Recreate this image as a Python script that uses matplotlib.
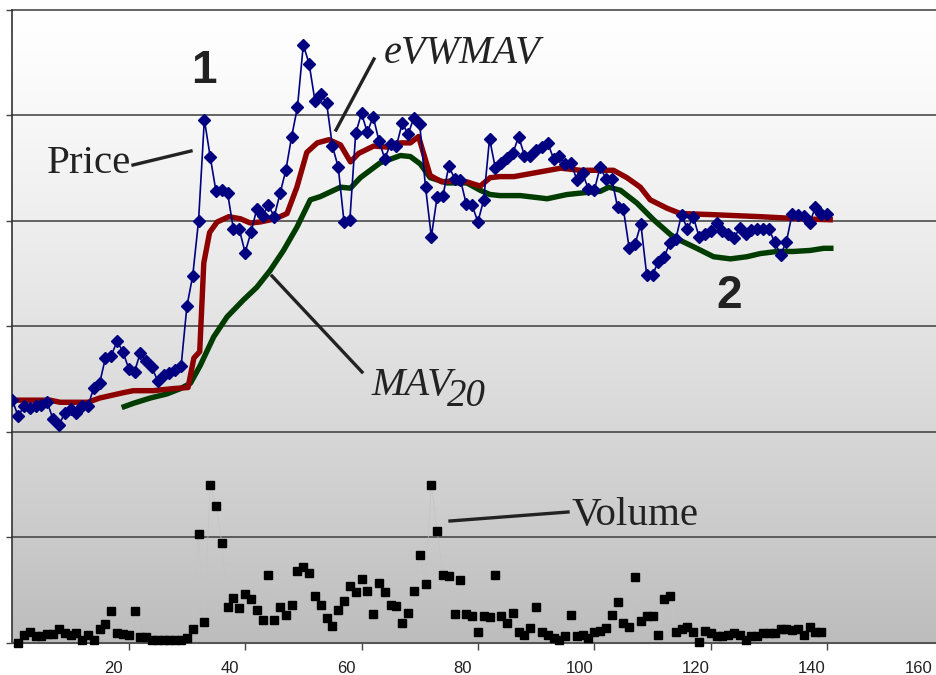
import numpy as np
import matplotlib
matplotlib.use("Agg")
import matplotlib.pyplot as plt
from matplotlib.lines import Line2D
from matplotlib.transforms import ScaledTranslation

# price, one value per day (day 0..140)
price = [2.30, 2.15, 2.24, 2.23, 2.24, 2.25, 2.28, 2.12, 2.06, 2.18,
         2.22, 2.18, 2.24, 2.24, 2.42, 2.46, 2.70, 2.72, 2.86, 2.76,
         2.60, 2.57, 2.75, 2.67, 2.61, 2.48, 2.54, 2.56, 2.59, 2.62,
         3.19, 3.48, 4.00, 4.96, 4.61, 4.28, 4.29, 4.26, 3.92, 3.92,
         3.70, 3.89, 4.11, 4.05, 4.15, 4.04, 4.26, 4.48, 4.80, 5.08,
         5.67, 5.49, 5.14, 5.20, 5.12, 4.71, 4.51, 3.99, 4.01, 4.83,
         5.02, 4.84, 4.99, 4.76, 4.59, 4.73, 4.71, 4.93, 4.82, 4.98,
         4.92, 4.32, 3.85, 4.23, 4.24, 4.52, 4.40, 4.39, 4.16, 4.15,
         3.99, 4.20, 4.78, 4.50, 4.55, 4.60, 4.64, 4.80, 4.62, 4.62,
         4.67, 4.70, 4.74, 4.59, 4.62, 4.54, 4.55, 4.39, 4.45, 4.30,
         4.29, 4.51, 4.40, 4.40, 4.13, 4.11, 3.74, 3.78, 3.97, 3.49,
         3.49, 3.61, 3.66, 3.79, 3.83, 4.06, 3.92, 4.04, 3.85, 3.88,
         3.90, 3.98, 3.90, 3.88, 3.84, 3.93, 3.88, 3.91, 3.92, 3.92,
         3.92, 3.80, 3.68, 3.80, 4.07, 4.06, 4.05, 3.98, 4.13, 4.07,
         4.07]
days = np.arange(len(price))

# eVWMAV line, vertices
evw_x = [0, 6.5, 8.2, 13, 15, 19, 20.8, 24.2, 27.7, 30.2, 31.2, 32.2, 32.9,
         33.9, 35.2, 37.2, 39.2, 40.9, 42.6, 45.2, 47.2, 48.9, 50.6, 52.4,
         54.4, 55.2, 56.4, 58.1, 59.5, 62.1, 64.4, 66.7, 68.4, 69.8, 71.8,
         73.8, 75.8, 78.1, 80.4, 82.1, 83.8, 86.2, 90.2, 94.2, 97.6, 100.5,
         103.3, 105.6, 107.9, 109.6, 112.5, 114.8, 120, 128.5, 135.4, 141]
evw_y = [2.30, 2.30, 2.28, 2.28, 2.32, 2.37, 2.39, 2.39, 2.41, 2.42, 2.70,
         2.76, 3.60, 3.89, 3.99, 4.04, 4.02, 3.98, 3.99, 4.02, 4.07, 4.32,
         4.65, 4.74, 4.77, 4.75, 4.72, 4.56, 4.64, 4.71, 4.70, 4.74, 4.74,
         4.80, 4.43, 4.37, 4.38, 4.37, 4.33, 4.41, 4.42, 4.42, 4.46, 4.50,
         4.48, 4.48, 4.48, 4.41, 4.32, 4.20, 4.12, 4.07, 4.06, 4.04, 4.02,
         4.01]

# 20 day moving average
mav_x = [18.8, 20.8, 23.7, 26.6, 28.9, 30.6, 32.3, 34.6, 36.9, 39.7, 42,
         44.3, 46.6, 48.9, 51.2, 52.9, 56.4, 58.1, 59.8, 63.2, 66.7, 68.4,
         70.1, 71.8, 74.7, 78.1, 80.4, 82.1, 83.8, 87.3, 91.9, 95.3, 98.7,
         101, 102.5, 104.5, 107.3, 110.2, 113.1, 114.2, 117.6, 120.5, 123.4,
         126.2, 128.5, 131.4, 134.2, 137.1, 139.4, 141.1]
mav_y = [2.23, 2.27, 2.32, 2.36, 2.41, 2.46, 2.63, 2.90, 3.09, 3.25, 3.37,
         3.53, 3.72, 3.94, 4.20, 4.23, 4.32, 4.31, 4.41, 4.55, 4.62, 4.61,
         4.54, 4.41, 4.36, 4.36, 4.29, 4.25, 4.24, 4.24, 4.21, 4.25, 4.27,
         4.28, 4.32, 4.29, 4.17, 4.01, 3.87, 3.83, 3.74, 3.66, 3.64, 3.66,
         3.69, 3.71, 3.71, 3.72, 3.74, 3.74]

# volume, day 1..139
volume = [0.00, 0.07, 0.10, 0.06, 0.06, 0.08, 0.08, 0.13, 0.09, 0.07,
          0.09, 0.03, 0.07, 0.03, 0.13, 0.18, 0.30, 0.09, 0.08, 0.07,
          0.30, 0.05, 0.05, 0.03, 0.03, 0.03, 0.03, 0.03, 0.03, 0.04,
          0.13, 1.03, 0.20, 1.50, 1.30, 0.95, 0.34, 0.42, 0.33, 0.46,
          0.41, 0.31, 0.22, 0.64, 0.22, 0.34, 0.26, 0.36, 0.68, 0.72,
          0.66, 0.44, 0.36, 0.23, 0.16, 0.31, 0.40, 0.54, 0.48, 0.60,
          0.49, 0.27, 0.57, 0.48, 0.36, 0.35, 0.19, 0.28, 0.49, 0.83,
          0.56, 1.50, 1.06, 0.64, 0.63, 0.27, 0.59, 0.27, 0.25, 0.10,
          0.25, 0.24, 0.64, 0.25, 0.19, 0.28, 0.10, 0.07, 0.14, 0.34,
          0.10, 0.07, 0.04, 0.03, 0.06, 0.26, 0.06, 0.07, 0.04, 0.10,
          0.11, 0.14, 0.26, 0.39, 0.19, 0.15, 0.62, 0.21, 0.25, 0.25,
          0.07, 0.41, 0.44, 0.10, 0.13, 0.15, 0.10, 0.01, 0.11, 0.09,
          0.06, 0.06, 0.07, 0.09, 0.07, 0.03, 0.06, 0.06, 0.09, 0.09,
          0.09, 0.13, 0.13, 0.12, 0.13, 0.07, 0.15, 0.10, 0.10]
vol_days = np.arange(1, len(volume) + 1)

xticks = [20, 40, 60, 80, 100, 120, 140, 160]

W, H = 936, 675
fig = plt.figure(figsize=(W / 100, H / 100), dpi=100)
ax = fig.add_axes([12.3 / W, 32.3 / H, 931.2 / W, 632.7 / H])


def fp(x, y):
    # pixel position (from top left) -> figure fraction
    return x / W, 1 - y / H


# grey gradient background
g = np.linspace(0, 1, 300)[:, None]
shade = 1 - 0.26 * g ** 1.25
ax.imshow(np.dstack([shade, shade, shade]), extent=[0, 160, 0, 6],
          aspect="auto", zorder=0)
ax.set_xlim(0, 160)
ax.set_ylim(0, 6)

for y in range(1, 7):
    ax.axhline(y, color="#3c3c3c", lw=1.1, zorder=1, clip_on=False)

ax.plot(vol_days, volume, color="#c4c4c4", lw=0.5, zorder=2)
ax.plot(vol_days, volume, ls="none", marker="s", ms=5.8, color="black",
        zorder=5, clip_on=False)

ax.plot(mav_x, mav_y, color="#003c00", lw=3.9, zorder=3,
        solid_joinstyle="round", solid_capstyle="butt")
ax.plot(evw_x, evw_y, color="#8c0000", lw=3.9, zorder=3,
        solid_joinstyle="round", solid_capstyle="butt")
ax.plot(days, price, color="#000080", lw=1.2, marker="D", ms=6,
        mfc="#000080", mec="#000080", zorder=4)

for s in ["top", "right"]:
    ax.spines[s].set_visible(False)
ax.spines["left"].set_color("#333333")
ax.spines["left"].set_linewidth(1.2)
ax.spines["bottom"].set_color("#555555")
ax.spines["bottom"].set_linewidth(1.5)
ax.set_yticks(range(0, 7))
ax.set_yticklabels([])
ax.tick_params(axis="y", length=4, color="#444444", width=1)
ax.set_xticks(xticks)
ax.set_xticklabels([str(t) for t in xticks], fontsize=12,
                   family="Liberation Sans", color="#222222")
ax.tick_params(axis="x", length=5, color="#444444", width=1, pad=8)
shift = ScaledTranslation(-15 / 100, 0, fig.dpi_scale_trans)
for lab in ax.get_xticklabels():
    lab.set_transform(lab.get_transform() + shift)
# the last label sits at the right edge; keep it inside the picture
ax.get_xticklabels()[-1].set_horizontalalignment("right")
ax.get_xticklabels()[-1].set_transform(
    ax.get_xticklabels()[-1].get_transform()
    + ScaledTranslation(4 / 100, 0, fig.dpi_scale_trans))

# annotations
serif = "Liberation Serif"
txt = "#222222"
fig.text(*fp(47, 173), "Price", family=serif, fontsize=29.5, color=txt,
         ha="left", va="baseline")
fig.text(*fp(384, 63), "eVWMAV", family=serif, style="italic",
         fontsize=29, color=txt, ha="left", va="baseline")
fig.text(*fp(371, 395), "MAV", family=serif, style="italic", fontsize=29,
         color=txt, ha="left", va="baseline")
fig.text(*fp(447, 406), "20", family=serif, style="italic", fontsize=28,
         color=txt, ha="left", va="baseline")
fig.text(*fp(572, 525), "Volume", family=serif, fontsize=29.5, color=txt,
         ha="left", va="baseline")
fig.text(*fp(204, 83), "1", family="Liberation Sans", weight="bold",
         fontsize=33, color=txt, ha="center", va="baseline")
fig.text(*fp(729, 308), "2", family="Liberation Sans", weight="bold",
         fontsize=33, color=txt, ha="center", va="baseline")

leaders = [((133, 165), (191, 151)),
           ((336, 130), (374, 59)),
           ((272, 276), (362, 372)),
           ((450, 521), (568, 512))]
for (x1, y1), (x2, y2) in leaders:
    a, b = fp(x1, y1)
    c, d = fp(x2, y2)
    fig.add_artist(Line2D([a, c], [b, d], transform=fig.transFigure,
                          color="#222222", lw=2.4))

fig.savefig("out.png", dpi=100)
